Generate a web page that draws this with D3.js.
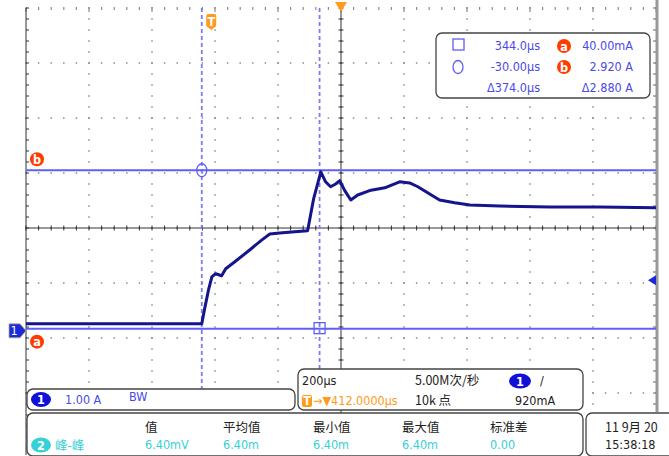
<!doctype html>
<html lang="zh">
<head>
<meta charset="UTF-8">
<title>示波器波形</title>
<script src="https://cdn.jsdelivr.net/npm/d3@7/dist/d3.min.js"></script>
<style>
    body { margin: 0; background: #fff; }
    svg { display: block; }
    text { font-family: "Liberation Sans Narrow", "DejaVu Sans Condensed", "Noto Sans CJK SC", sans-serif; font-size: 12.5px; }
    .cjk { font-family: "Liberation Sans Narrow", "Noto Sans CJK SC", sans-serif; }
</style>
</head>
<body>
<svg id="scope" width="669" height="456"></svg>
<script>
    // trace, time in µs (trigger at 0), current in A
    const timeUs = [-588, -30, -21, -8, 2, 14, 24, 33, 46, 78, 122, 160, 186, 217, 265, 306,
        325, 348, 363, 379, 395, 408, 424, 443, 465, 503, 551, 598, 630, 656, 687, 725,
        773, 821, 916, 1075, 1233, 1412]
    const currentA = [0.13, 0.13, 0.40, 0.76, 0.98, 1.04, 1.02, 1.00, 1.13, 1.27, 1.47, 1.65, 1.76, 1.78, 1.80, 1.82,
        2.40, 2.89, 2.71, 2.62, 2.67, 2.73, 2.55, 2.38, 2.47, 2.55, 2.60, 2.71, 2.69, 2.62, 2.51, 2.38,
        2.33, 2.29, 2.27, 2.25, 2.25, 2.24]

    // settings
    const timePerDiv = 200      // µs
    const ampsPerDiv = 1.00
    const triggerDelay = 412    // µs
    const groundDiv = 5.87      // ground marker, divisions from the top
    const triggerLevel = 0.92   // A

    // cursors
    const cursorTimes = [344.0, -30.00]   // □, ○
    const cursorAmps = [0.040, 2.920]     // a, b

    const cursorRows = [
        ['344.0µs', 'a', '40.00mA'],
        ['-30.00µs', 'b', '2.920 A'],
        ['Δ374.0µs', '', 'Δ2.880 A']
    ]
    const measHeads = ['值', '平均值', '最小值', '最大值', '标准差']
    const measValues = ['6.40mV', '6.40m', '6.40m', '6.40m', '0.00']

    const svg = d3.select('#scope')
    const gLeft = 26, gRight = 656, gTop = 8, gBottom = 448
    const gx = d3.scaleLinear().domain([0, 10]).range([gLeft, gRight])
    const gy = d3.scaleLinear().domain([0, 8]).range([gTop, gBottom])

    const x = d3.scaleLinear()
        .domain([triggerDelay - 5 * timePerDiv, triggerDelay + 5 * timePerDiv])
        .range([gLeft, gRight])
    const y = d3.scaleLinear()
        .domain([-(8 - groundDiv) * ampsPerDiv, groundDiv * ampsPerDiv])
        .range([gBottom, gTop])

    const blue = '#5f5ff5', trace = '#14148c', orange = '#ff9a1a', red = '#ff3b00', cyan = '#35d0d8'

    // graticule dots
    const grid = svg.append('g').attr('fill', '#8a8a8a')
    const minorX = d3.range(0, 50.01).map(d => d / 5)
    const minorY = d3.range(0, 40.01).map(d => d / 5)
    d3.range(1, 10).forEach(i => {
        grid.selectAll(null).data(minorY).enter().append('rect')
            .attr('x', gx(i) - 0.75).attr('y', d => gy(d) - 0.75)
            .attr('width', 1.5).attr('height', 1.5)
    })
    d3.range(1, 8).forEach(j => {
        grid.selectAll(null).data(minorX).enter().append('rect')
            .attr('x', d => gx(d) - 0.75).attr('y', gy(j) - 0.75)
            .attr('width', 1.5).attr('height', 1.5)
    })
    // top edge dashes
    grid.selectAll(null).data(minorX).enter().append('rect')
        .attr('x', d => gx(d) - 0.6).attr('y', gTop - 1)
        .attr('width', 1.2).attr('height', d => Number.isInteger(d) ? 5 : 3)

    // center axes with ticks
    const axes = svg.append('g').attr('stroke', '#333').attr('stroke-width', 1)
    axes.append('line').attr('x1', gLeft).attr('x2', gRight).attr('y1', gy(4)).attr('y2', gy(4))
    axes.append('line').attr('x1', gx(5)).attr('x2', gx(5)).attr('y1', gTop).attr('y2', gBottom)
    axes.selectAll(null).data(minorX).enter().append('line')
        .attr('x1', d => gx(d)).attr('x2', d => gx(d)).attr('y1', gy(4) - 2.5).attr('y2', gy(4) + 2.5)
    axes.selectAll(null).data(minorY).enter().append('line')
        .attr('x1', gx(5) - 2.5).attr('x2', gx(5) + 2.5).attr('y1', d => gy(d)).attr('y2', d => gy(d))

    // left border
    axes.append('line').attr('x1', gLeft).attr('x2', gLeft).attr('y1', gTop).attr('y2', 455)
    axes.selectAll(null).data(minorY).enter().append('line')
        .attr('x1', gLeft).attr('x2', gLeft + 3).attr('y1', d => gy(d)).attr('y2', d => gy(d))
    // right border
    svg.append('line').attr('x1', gRight + 1).attr('x2', gRight + 1).attr('y1', 0).attr('y2', 412)
        .attr('stroke', '#9a9a9a').attr('stroke-width', 3)
    svg.append('g').attr('stroke', '#666').selectAll(null).data(minorY).enter().append('line')
        .attr('x1', gRight - 3).attr('x2', gRight).attr('y1', d => gy(d)).attr('y2', d => gy(d))

    // cursors
    const cur = svg.append('g').attr('stroke', blue).attr('fill', 'none')
    cur.selectAll(null).data(cursorTimes).enter().append('line')
        .attr('x1', d => x(d)).attr('x2', d => x(d)).attr('y1', gTop).attr('y2', 400)
        .attr('stroke', '#7b7bf8').attr('stroke-width', 1.8).attr('stroke-dasharray', '4,3')
    cur.selectAll(null).data(cursorAmps).enter().append('line')
        .attr('x1', gLeft).attr('x2', gRight).attr('y1', d => y(d)).attr('y2', d => y(d))
        .attr('stroke-width', 2)
    cur.append('rect').attr('x', x(cursorTimes[0]) - 5.5).attr('y', y(cursorAmps[0]) - 6)
        .attr('width', 11).attr('height', 11).attr('stroke-width', 1.3)
    cur.append('ellipse').attr('cx', x(cursorTimes[1])).attr('cy', y(cursorAmps[1]))
        .attr('rx', 5).attr('ry', 6.5).attr('stroke-width', 1.3)

    // trace
    const pts = timeUs.map((t, i) => [t, currentA[i]])
    svg.append('path').datum(pts)
        .attr('fill', 'none').attr('stroke', trace).attr('stroke-width', 3)
        .attr('stroke-linejoin', 'round')
        .attr('d', d3.line().x(d => x(d[0])).y(d => y(d[1])))

    // cursor labels a / b
    const badge = (g, cx, cy, label, fill, rx = 7, ry = 7) => {
        g.append('ellipse').attr('cx', cx).attr('cy', cy).attr('rx', rx).attr('ry', ry).attr('fill', fill)
        g.append('text').attr('x', cx).attr('y', cy + 4.5).attr('text-anchor', 'middle')
            .attr('fill', '#fff').attr('font-weight', 'bold').attr('font-size', 13).text(label)
    }
    badge(svg, 37, y(cursorAmps[1]) - 11, 'b', red)
    badge(svg, 37, y(cursorAmps[0]) + 13, 'a', red)

    // channel 1 ground marker
    const gY = y(0)
    svg.append('path')
        .attr('d', `M9,${gY - 7}H20L26,${gY}L20,${gY + 7}H9Z`)
        .attr('fill', '#1a2ad8').attr('stroke', '#b8b070').attr('stroke-width', 0.8)
    svg.append('text').attr('x', 14).attr('y', gY + 4.5).attr('text-anchor', 'middle')
        .attr('fill', '#fff').attr('font-size', 12).text('1')

    // trigger level marker
    const tY = y(triggerLevel)
    svg.append('path').attr('d', `M${gRight - 8},${tY}L${gRight},${tY - 5}V${tY + 5}Z`).attr('fill', '#1a2ad8')
    svg.append('line').attr('x1', gRight - 6).attr('x2', gRight).attr('y1', tY).attr('y2', tY)
        .attr('stroke', '#1a2ad8').attr('stroke-width', 2)

    // trigger position markers
    const tx = x(0)
    svg.append('path')
        .attr('d', `M${tx - 5},16Q${tx - 5},14 ${tx - 3},14H${tx + 3}Q${tx + 5},14 ${tx + 5},16V26L${tx},30L${tx - 5},26Z`)
        .attr('fill', orange)
    svg.append('text').attr('x', tx).attr('y', 25.5).attr('text-anchor', 'middle')
        .attr('fill', '#fff').attr('font-size', 11).attr('font-weight', 'bold').text('T')
    svg.append('path').attr('d', `M${gx(5) - 6},2H${gx(5) + 6}L${gx(5)},12Z`).attr('fill', orange)

    // cursor readout box
    const box = svg.append('g')
    box.append('rect').attr('x', 436).attr('y', 33).attr('width', 214).attr('height', 65).attr('rx', 6)
        .attr('fill', '#fff').attr('stroke', '#444').attr('stroke-width', 1.3)
    box.append('rect').attr('x', 453).attr('y', 39).attr('width', 11).attr('height', 11)
        .attr('fill', 'none').attr('stroke', blue).attr('stroke-width', 1.3)
    box.append('ellipse').attr('cx', 458).attr('cy', 67).attr('rx', 5).attr('ry', 6.5)
        .attr('fill', 'none').attr('stroke', blue).attr('stroke-width', 1.3)
    cursorRows.forEach((r, i) => {
        const ry = 50 + i * 21
        box.append('text').attr('x', 540).attr('y', ry).attr('text-anchor', 'end').attr('fill', '#4a4ae6').text(r[0])
        box.append('text').attr('x', 633).attr('y', ry).attr('text-anchor', 'end').attr('fill', '#4a4ae6').text(r[2])
        if (r[1]) badge(box, 564, ry - 4, r[1], red, 7, 7)
    })

    // bottom panels
    const panel = (px, py, w, h) => svg.append('rect').attr('x', px).attr('y', py).attr('width', w).attr('height', h)
        .attr('rx', 6).attr('fill', '#fff').attr('stroke', '#444').attr('stroke-width', 1.3)

    panel(27, 389, 268, 21)
    badge(svg, 41, 399.5, '1', '#1010d8', 10, 7.5)
    svg.append('text').attr('x', 65).attr('y', 404).attr('fill', '#4a4ae6').text('1.00 A')
    svg.append('text').attr('x', 129).attr('y', 401).attr('fill', '#4a4ae6').attr('font-size', 8).text('BW')

    panel(298, 369, 285, 41)
    svg.append('text').attr('x', 302).attr('y', 385).attr('fill', '#222').text('200µs')
    svg.append('text').attr('x', 415).attr('y', 385).attr('fill', '#222').attr('class', 'cjk').text('5.00M次/秒')
    badge(svg, 520, 381, '1', '#1010d8', 11, 7.5)
    svg.append('text').attr('x', 540).attr('y', 385).attr('fill', '#222').text('/')
    svg.append('rect').attr('x', 302).attr('y', 395).attr('width', 10).attr('height', 12).attr('rx', 2).attr('fill', orange)
    svg.append('text').attr('x', 307).attr('y', 405).attr('text-anchor', 'middle').attr('fill', '#fff')
        .attr('font-size', 10).attr('font-weight', 'bold').text('T')
    svg.append('text').attr('x', 313).attr('y', 405).attr('fill', orange).text('→▼412.0000µs')
    svg.append('text').attr('x', 415).attr('y', 405).attr('fill', '#222').attr('class', 'cjk').text('10k 点')
    svg.append('text').attr('x', 515).attr('y', 405).attr('fill', '#222').text('920mA')

    panel(27, 413, 556, 43)
    const measX = [145, 223, 313, 402, 490]
    svg.selectAll(null).data(measHeads).enter().append('text').attr('class', 'cjk')
        .attr('x', (d, i) => measX[i]).attr('y', 432).attr('fill', '#222').attr('font-size', 13).text(d => d)
    svg.selectAll(null).data(measValues).enter().append('text')
        .attr('x', (d, i) => measX[i]).attr('y', 449).attr('fill', cyan).text(d => d)
    badge(svg, 41, 445, '2', cyan, 10, 7.5)
    svg.append('text').attr('class', 'cjk').attr('x', 55).attr('y', 450).attr('fill', cyan)
        .attr('font-size', 14).text('峰-峰')

    panel(586, 413, 100, 43)
    svg.append('text').attr('class', 'cjk').attr('x', 605).attr('y', 432).attr('fill', '#222').text('11 9月 20')
    svg.append('text').attr('x', 605).attr('y', 449).attr('fill', '#222').text('15:38:18')
</script>
</body>
</html>
